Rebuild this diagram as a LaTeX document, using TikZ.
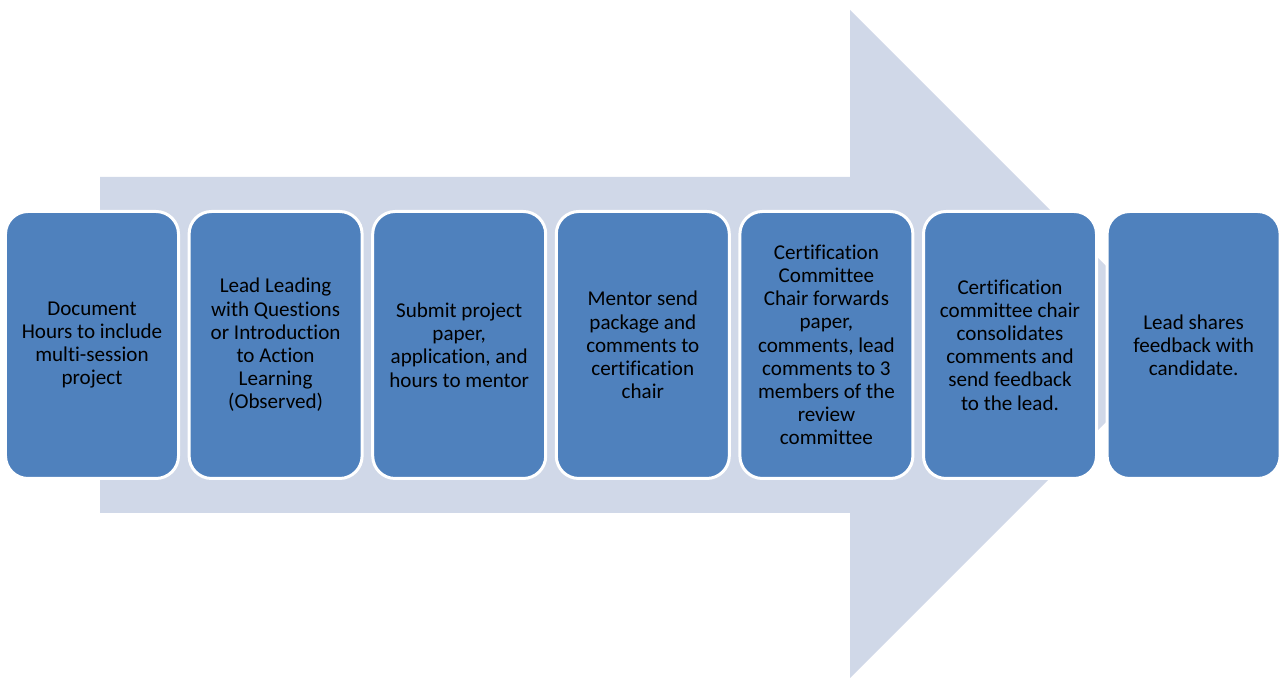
\documentclass[tikz,border=0pt]{standalone}
\usepackage{fontspec}
\setmainfont{Carlito}[Ligatures=NoCommon]
\usetikzlibrary{positioning}
\definecolor{arrowfill}{RGB}{208,216,232}
\definecolor{boxfill}{RGB}{79,129,189}
\tikzset{stepbox/.style={draw=white, line width=0.06cm, fill=boxfill, rounded corners=0.45cm,
		minimum width=3.46cm, minimum height=5.34cm, outer sep=0pt, inner sep=2pt,
		align=center, text=black, font=\fontsize{12}{13.2}\selectfont}}

\begin{document}
\begin{tikzpicture}
			%%%%% START %%%%%
			\useasboundingbox (0, 0) rectangle (25.6, 13.58);
			
			\fill[arrowfill] (2.0, 10.04) -- (17.0, 10.04) -- (17.0, 13.38) -- (23.68, 6.70)
				-- (17.0, 0.02) -- (17.0, 3.32) -- (2.0, 3.32) -- cycle;
			
			\node[stepbox] (b1) at (1.84, 6.68) {Document\\Hours to include\\multi-session\\project};
			\node[stepbox, right=0.212cm of b1] (b2) {Lead Leading\\with Questions\\or Introduction\\to Action\\Learning\\(Observed)};
			\node[stepbox, right=0.212cm of b2] (b3) {Submit project\\paper,\\application, and\\hours to mentor};
			\node[stepbox, right=0.212cm of b3] (b4) {Mentor send\\package and\\comments to\\certification\\chair};
			\node[stepbox, right=0.212cm of b4] (b5) {Certification\\Committee\\Chair forwards\\paper,\\comments, lead\\comments to 3\\members of the\\review\\committee};
			\node[stepbox, right=0.212cm of b5] (b6) {Certification\\committee chair\\consolidates\\comments and\\send feedback\\to the lead.};
			\node[stepbox, right=0.212cm of b6] (b7) {Lead shares\\feedback with\\candidate.};
			%%%%% END %%%%%
		\end{tikzpicture}
\end{document}
